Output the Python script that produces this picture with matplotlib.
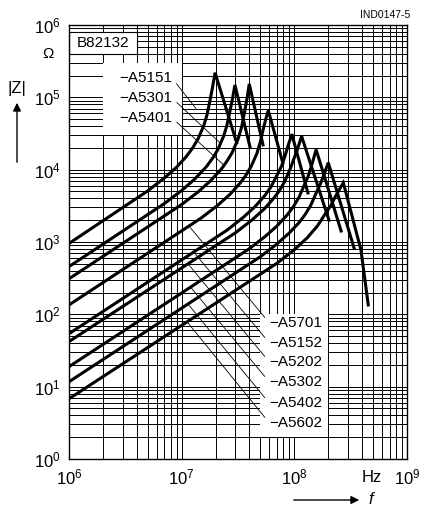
import math
import matplotlib
matplotlib.use("Agg")
import matplotlib.pyplot as plt
from matplotlib.patches import Rectangle, FancyArrowPatch
from matplotlib.ticker import LogLocator, FuncFormatter, NullFormatter

plt.rcParams['font.family'] = ['Liberation Sans', 'DejaVu Sans']

# impedance curves |Z| (Ohm) over f (Hz)
f_5151 = [1e6, 5e6, 7e6, 9e6, 1.1e7, 1.25e7, 1.4e7, 1.57e7, 1.68e7, 1.78e7, 1.87e7, 1.98e7, 3.08e7]
z_5151 = [955, 5090, 7640, 10800, 15200, 19900, 26800, 40600, 57500, 89100, 132000, 219000, 23400]
f_5301 = [1e6, 7e6, 1e7, 1.3e7, 1.65e7, 1.9e7, 2.1e7, 2.36e7, 2.5e7, 2.65e7, 2.8e7, 2.97e7, 4.04e7]
z_5301 = [457, 3390, 5150, 7360, 10900, 14700, 19100, 29200, 39200, 58700, 89000, 148000, 20600]
f_5401 = [1e6, 1e7, 1.4e7, 1.8e7, 2.25e7, 2.5e7, 2.8e7, 3.15e7, 3.4e7, 3.6e7, 3.8e7, 3.98e7, 5.27e7]
z_5401 = [310, 3300, 4930, 7000, 10200, 12800, 17100, 25900, 38400, 60400, 95500, 153000, 22000]
f_5701 = [1e6, 1.5e7, 2.1e7, 2.7e7, 3.3e7, 3.7e7, 4.15e7, 4.65e7, 5.0e7, 5.33e7, 5.6e7, 5.87e7, 7.9e7]
z_5701 = [135, 2160, 3240, 4600, 6520, 8260, 11200, 16700, 24400, 38000, 51000, 66000, 12400]
f_5152 = [1e6, 2.5e7, 3.5e7, 4.5e7, 5.5e7, 6.2e7, 7e7, 7.7e7, 8.3e7, 8.8e7, 9.5e7, 1.32e8]
z_5152 = [54, 1440, 2170, 3110, 4430, 5780, 8300, 11200, 15800, 21400, 31000, 4760]
f_5202 = [1e6, 3e7, 4.2e7, 5.4e7, 6.5e7, 7.3e7, 8.2e7, 9.2e7, 9.9e7, 1.05e8, 1.1e8, 1.16e8, 2.03e8]
z_5202 = [42, 1340, 2010, 2860, 3950, 5020, 6820, 10300, 14100, 17800, 22400, 29000, 2000]
f_5302 = [1e6, 4e7, 5.5e7, 7e7, 8.7e7, 9.8e7, 1.1e8, 1.23e8, 1.32e8, 1.4e8, 1.48e8, 1.56e8, 2.6e8]
z_5302 = [18.9, 811, 1190, 1660, 2400, 3070, 4150, 6210, 7940, 10500, 14100, 19000, 1420]
f_5402 = [1e6, 5e7, 7e7, 9e7, 1.1e8, 1.25e8, 1.4e8, 1.58e8, 1.7e8, 1.8e8, 1.9e8, 2.0e8, 3.39e8]
z_5402 = [11.7, 627, 938, 1330, 1850, 2410, 3230, 4950, 6310, 7940, 10000, 12500, 826]
f_5602 = [1e6, 7e7, 1e8, 1.3e8, 1.6e8, 1.9e8, 2.1e8, 2.3e8, 2.5e8, 2.72e8, 3.9e8, 4.53e8]
z_5602 = [6.8, 507, 782, 1140, 1660, 2510, 3160, 4170, 5250, 6600, 780, 135]

curves = [f_5151, f_5301, f_5401, f_5701, f_5152, f_5202, f_5302, f_5402, f_5602]
values = [z_5151, z_5301, z_5401, z_5701, z_5152, z_5202, z_5302, z_5402, z_5602]

top_names = ['−A5151', '−A5301', '−A5401']
top_text_z = [1.85e5, 9.8e4, 5.2e4]
top_target_f = [1.34e7, 2.19e7, 2.38e7]
top_target_z = [7.0e4, 2.34e4, 11500]

low_names = ['−A5701', '−A5152', '−A5202', '−A5302', '−A5402', '−A5602']
low_text_z = [75.9, 40.2, 21.9, 11.6, 5.9, 3.15]
low_target_f = [1.19e7, 1.3e7, 1.16e7, 1.22e7, 1.15e7, 1.13e7]
low_target_z = [1590, 705, 482, 230, 136, 77]

x_major = [1e6, 1e7, 1e8, 1e9]
y_major = [1, 10, 100, 1e3, 1e4, 1e5, 1e6]

fig = plt.figure(figsize=(4.26, 5.07), dpi=100)
ax = fig.add_axes([69 / 426, 48 / 507, 338 / 426, 434 / 507])
ax.set_xscale('log')
ax.set_yscale('log')
ax.set_xticks(x_major)
ax.set_yticks(y_major)
ax.set_xlim(1e6, 1e9)
ax.set_ylim(1, 1e6)

ax.xaxis.set_minor_locator(LogLocator(base=10, subs=range(2, 10), numticks=20))
ax.yaxis.set_minor_locator(LogLocator(base=10, subs=range(2, 10), numticks=20))
ax.xaxis.set_minor_formatter(NullFormatter())
ax.yaxis.set_minor_formatter(NullFormatter())
fmt = FuncFormatter(lambda v, p: r'$\mathregular{10^{%d}}$' % round(math.log10(v)))
ax.xaxis.set_major_formatter(fmt)
ax.yaxis.set_major_formatter(fmt)
ax.tick_params(which='both', length=0, labelsize=12)
ax.tick_params(axis='x', pad=6)
ax.tick_params(axis='y', pad=6)
ax.grid(which='both', color='black', lw=0.7)
ax.set_axisbelow(True)
for s in ax.spines.values():
    s.set_linewidth(1)

# white boxes behind the labels
ax.add_patch(Rectangle((2e6, 3e4), 8e6, 2.7e5, facecolor='white', edgecolor='none', zorder=2))
ax.add_patch(Rectangle((5e7, 2), 1.5e8, 98, facecolor='white', edgecolor='none', zorder=2))
ax.add_patch(Rectangle((1e6, 4e5), 3e6, 4e5, facecolor='white', edgecolor='black', lw=0.8, zorder=2))
ax.text(2e6, 5.7e5, 'B82132', ha='center', va='center', fontsize=11, zorder=3)

for fr, z in zip(curves, values):
    ax.plot(fr, z, color='black', lw=2.2, solid_joinstyle='miter', zorder=4)

for name, tz, tf, tv in zip(top_names, top_text_z, top_target_f, top_target_z):
    ax.annotate(name, xy=(tf, tv), xytext=(8.2e6, tz), ha='right', va='center', fontsize=11,
                zorder=3, arrowprops=dict(arrowstyle='-', lw=0.6, color='black', relpos=(1, 0.5),
                                          shrinkA=2, shrinkB=0))

for name, tz, tf, tv in zip(low_names, low_text_z, low_target_f, low_target_z):
    ax.annotate(name, xy=(tf, tv), xytext=(6.0e7, tz), ha='left', va='center', fontsize=11,
                zorder=3, arrowprops=dict(arrowstyle='-', lw=0.6, color='black', relpos=(0, 0.5),
                                          shrinkA=2, shrinkB=0))

fig.text(410 / 426, 1 - 15 / 507, 'IND0147-5', ha='right', va='center', fontsize=7.5)
fig.text(48 / 426, 1 - 54 / 507, 'Ω', ha='center', va='center', fontsize=11)
fig.text(17 / 426, 1 - 88 / 507, '|Z|', ha='center', va='center', fontsize=12)
fig.text(372 / 426, 1 - 478 / 507, 'Hz', ha='center', va='center', fontsize=12)

# axis arrows
fig.patches.append(FancyArrowPatch((17 / 426, 1 - 165 / 507), (17 / 426, 1 - 100 / 507),
                                   transform=fig.transFigure, arrowstyle='-|>',
                                   mutation_scale=12, color='black', lw=1))
fig.patches.append(FancyArrowPatch((291 / 426, 7 / 507), (362 / 426, 7 / 507),
                                   transform=fig.transFigure, arrowstyle='-|>',
                                   mutation_scale=12, color='black', lw=1))
fig.text(368 / 426, 8 / 507, 'f', ha='left', va='center', fontsize=12, style='italic')

fig.savefig('out.png', dpi=100)
